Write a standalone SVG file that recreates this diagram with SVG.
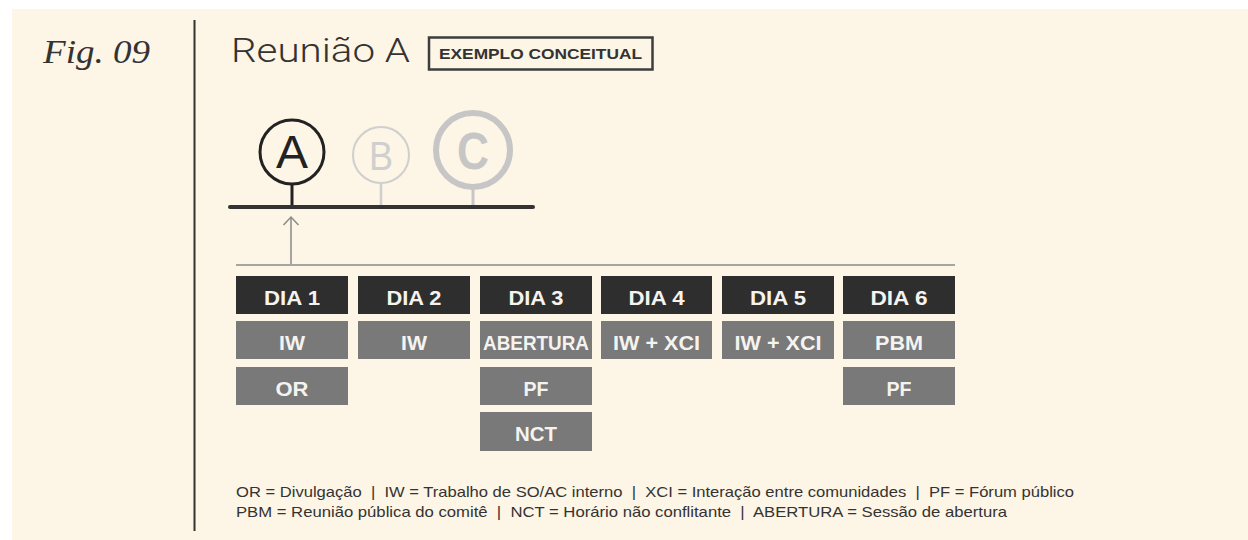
<svg xmlns="http://www.w3.org/2000/svg" width="1248" height="540" viewBox="0 0 1248 540">
<defs>
<style>
.hd{fill:#2f2e2e}
.cl{fill:#797979}
.bt{font-family:"Liberation Sans",Arial,sans-serif;font-weight:bold;font-size:21px;fill:#f5f3ef;text-anchor:middle}
.lg{font-family:"Liberation Sans",Arial,sans-serif;font-size:15px;fill:#333}
</style>
</defs>
<rect x="0" y="0" width="1248" height="540" fill="#ffffff"/>
<rect x="12" y="9" width="1236" height="531" fill="#fdf5e5"/>
<g id="header">
<text x="43" y="63" font-family="'Liberation Serif',serif" font-style="italic" font-size="33" fill="#333" textLength="107" lengthAdjust="spacingAndGlyphs">Fig. 09</text>
<line x1="194.5" y1="20" x2="194.5" y2="531" stroke="#333" stroke-width="2"/>
<text x="231" y="62" font-family="Roboto,'Liberation Sans',sans-serif" font-weight="300" font-size="34" fill="#333" textLength="179" lengthAdjust="spacingAndGlyphs">Reunião A</text>
<rect x="429" y="37.5" width="223.5" height="32" fill="none" stroke="#3d3d3d" stroke-width="2.5"/>
<text x="540.5" y="59" font-family="'Liberation Sans',Arial,sans-serif" font-weight="bold" font-size="14" fill="#333" text-anchor="middle" textLength="203" lengthAdjust="spacingAndGlyphs">EXEMPLO CONCEITUAL</text>
</g>
<g id="meeting-a">
<circle cx="292" cy="152" r="32" fill="none" stroke="#222" stroke-width="3"/>
<text x="292" y="168" font-family="'Liberation Sans',Arial,sans-serif" font-size="46" fill="#222" text-anchor="middle" textLength="32" lengthAdjust="spacingAndGlyphs">A</text>
</g>
<g id="meeting-b">
<circle cx="381" cy="155" r="28" fill="none" stroke="#cfcfcf" stroke-width="2"/>
<text x="381" y="170" font-family="'Liberation Sans',Arial,sans-serif" font-size="40" fill="#cfcfcf" text-anchor="middle" textLength="24" lengthAdjust="spacingAndGlyphs">B</text>
</g>
<g id="meeting-c">
<circle cx="473" cy="150" r="37" fill="none" stroke="#c6c6c6" stroke-width="6"/>
<text x="473" y="169" font-family="'Liberation Sans',Arial,sans-serif" font-weight="bold" font-size="52" fill="#c6c6c6" text-anchor="middle" textLength="32" lengthAdjust="spacingAndGlyphs">C</text>
</g>
<g id="connectors">
<line x1="292" y1="184" x2="292" y2="207" stroke="#222" stroke-width="3"/>
<line x1="381" y1="183" x2="381" y2="207" stroke="#cfcfcf" stroke-width="2.5"/>
<line x1="473" y1="189" x2="473" y2="207" stroke="#c6c6c6" stroke-width="3"/>
<line x1="230" y1="207" x2="533" y2="207" stroke="#333" stroke-width="4" stroke-linecap="round"/>
<line x1="291" y1="264" x2="291" y2="217" stroke="#8a8a8a" stroke-width="1.5"/>
<path d="M283.5,225 L291,217 L298.5,225" fill="none" stroke="#8a8a8a" stroke-width="1.5"/>
<line x1="236" y1="265" x2="955" y2="265" stroke="#a5a5a5" stroke-width="2"/>
</g>
<g id="dia1">
<rect class="hd" x="236" y="276" width="112" height="38"/>
<text class="bt" x="292" y="304.5" textLength="56" lengthAdjust="spacingAndGlyphs">DIA 1</text>
<rect class="cl" x="236" y="321" width="112" height="38"/>
<text class="bt" x="292" y="349.5" textLength="26" lengthAdjust="spacingAndGlyphs">IW</text>
<rect class="cl" x="236" y="367" width="112" height="38"/>
<text class="bt" x="292" y="395.5" textLength="33" lengthAdjust="spacingAndGlyphs">OR</text>
</g>
<g id="dia2">
<rect class="hd" x="358" y="276" width="112" height="38"/>
<text class="bt" x="414" y="304.5" textLength="55" lengthAdjust="spacingAndGlyphs">DIA 2</text>
<rect class="cl" x="358" y="321" width="112" height="38"/>
<text class="bt" x="414" y="349.5" textLength="26" lengthAdjust="spacingAndGlyphs">IW</text>
</g>
<g id="dia3">
<rect class="hd" x="480" y="276" width="112" height="38"/>
<text class="bt" x="536" y="304.5" textLength="55" lengthAdjust="spacingAndGlyphs">DIA 3</text>
<rect class="cl" x="480" y="321" width="112" height="38"/>
<text class="bt" x="536" y="349.5" textLength="106" lengthAdjust="spacingAndGlyphs">ABERTURA</text>
<rect class="cl" x="480" y="367" width="112" height="38"/>
<text class="bt" x="536" y="395.5" textLength="25" lengthAdjust="spacingAndGlyphs">PF</text>
<rect class="cl" x="480" y="412" width="112" height="39"/>
<text class="bt" x="536" y="441" textLength="42" lengthAdjust="spacingAndGlyphs">NCT</text>
</g>
<g id="dia4">
<rect class="hd" x="601" y="276" width="111" height="38"/>
<text class="bt" x="656.5" y="304.5" textLength="56" lengthAdjust="spacingAndGlyphs">DIA 4</text>
<rect class="cl" x="601" y="321" width="111" height="38"/>
<text class="bt" x="656.5" y="349.5" textLength="87" lengthAdjust="spacingAndGlyphs">IW + XCI</text>
</g>
<g id="dia5">
<rect class="hd" x="722" y="276" width="112" height="38"/>
<text class="bt" x="778" y="304.5" textLength="56" lengthAdjust="spacingAndGlyphs">DIA 5</text>
<rect class="cl" x="722" y="321" width="112" height="38"/>
<text class="bt" x="778" y="349.5" textLength="87" lengthAdjust="spacingAndGlyphs">IW + XCI</text>
</g>
<g id="dia6">
<rect class="hd" x="843" y="276" width="112" height="38"/>
<text class="bt" x="899" y="304.5" textLength="57" lengthAdjust="spacingAndGlyphs">DIA 6</text>
<rect class="cl" x="843" y="321" width="112" height="38"/>
<text class="bt" x="899" y="349.5" textLength="48" lengthAdjust="spacingAndGlyphs">PBM</text>
<rect class="cl" x="843" y="367" width="112" height="38"/>
<text class="bt" x="899" y="395.5" textLength="25" lengthAdjust="spacingAndGlyphs">PF</text>
</g>
<g id="legend">
<text class="lg" x="236" y="497" xml:space="preserve" textLength="838" lengthAdjust="spacingAndGlyphs">OR = Divulgação  |  IW = Trabalho de SO/AC interno  |  XCI = Interação entre comunidades  |  PF = Fórum público</text>
<text class="lg" x="236" y="517" xml:space="preserve" textLength="771" lengthAdjust="spacingAndGlyphs">PBM = Reunião pública do comitê  |  NCT = Horário não conflitante  |  ABERTURA = Sessão de abertura</text>
</g>
</svg>
